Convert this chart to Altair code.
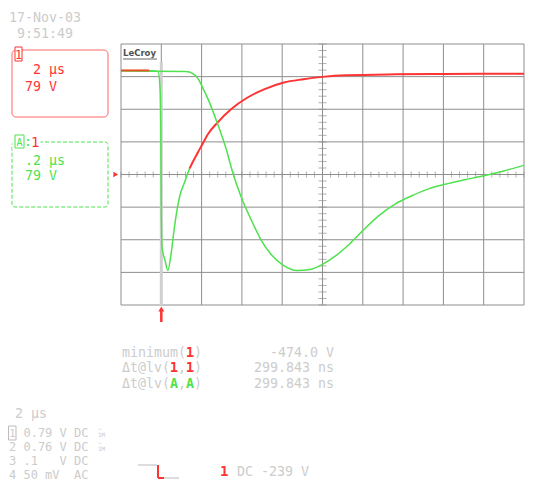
import altair as alt
import pandas as pd

# ---------------- data (in screen divisions) ----------------
red_flat_x = [0.0, 0.70]
red_flat_y = [3.19, 3.19]

dip_x = [0.70, 0.92, 0.97, 0.99, 1.00, 1.02, 1.09, 1.16, 1.26, 1.32, 1.38, 1.46, 1.58, 1.70]
dip_y = [3.18, 3.16, 2.60, 1.00, -1.00, -2.25, -2.62, -2.94, -2.27, -1.67, -1.16, -0.65, -0.23, 0.18]

red_x = [1.70, 1.80, 1.91, 2.02, 2.16, 2.40, 2.73, 3.14, 3.55, 4.04, 4.53, 5.06, 5.59, 6.81, 8.04, 10.0]
red_y = [0.18, 0.43, 0.68, 0.93, 1.24, 1.60, 2.00, 2.36, 2.61, 2.82, 2.92, 3.00, 3.04, 3.07, 3.08, 3.09]

green_x = [0.0, 1.60, 1.70, 1.78, 1.86, 1.93, 2.02, 2.16, 2.40, 2.61, 2.77, 2.97, 3.22, 3.46, 3.71,
           4.04, 4.36, 4.69, 5.02, 5.34, 5.67, 6.00, 6.40, 6.81, 7.22, 7.63, 8.04, 8.50, 9.00, 9.50, 10.0]
green_y = [3.17, 3.16, 3.14, 3.09, 3.02, 2.90, 2.68, 2.31, 1.54, 0.78, 0.07, -0.65, -1.36, -1.97, -2.43,
           -2.79, -2.94, -2.91, -2.74, -2.48, -2.13, -1.72, -1.26, -0.90, -0.65, -0.44, -0.30, -0.17, -0.04, 0.11, 0.28]

v_lines = list(range(0, 11))
h_lines = list(range(-4, 5))
x_minor = [round(0.2 * i, 1) for i in range(51)]
y_minor = [round(-4 + 0.2 * i, 1) for i in range(41)]
trigger_pos = [1.0]

date_text = "17-Nov-03"
time_text = " 9:51:49"
ch1_tdiv, ch1_vdiv = "2 µs", "79 V"
zA_tdiv, zA_vdiv = ".2 µs", "79 V"
meas_min = "-474.0 V"
meas_dt1 = "299.843 ns"
meas_dt2 = "299.843 ns"
timebase = "2 µs"
chan_rows = ["0.79 V DC", "2 0.76 V DC", "3 .1   V DC", "4 50 mV  AC"]
trig_text = "DC -239 V"

# ---------------- layout ----------------
W, H = 403, 261
X0, Y0 = 121, 44
MONO = "DejaVu Sans Mono"
FS = 13.3
CW = 8.0
GRID = "#8e8e8e"
TRIG = "#d0d0d0"
RED = "#ff3333"
GREEN = "#4ee24e"
TXT = "#cccccc"

xs = alt.Scale(domain=[0, 10], nice=False, zero=False)
ys = alt.Scale(domain=[-4, 4], nice=False, zero=False)
ONE = pd.DataFrame({"k": [0]})


def T(s, px, py, color=TXT, size=FS, weight="normal", align="left", font=MONO):
    if align == "left":
        lead = len(s) - len(s.lstrip(" "))
        px += lead * size * 0.602
        s = s.lstrip(" ")
    return alt.Chart(ONE).mark_text(
        text=s.replace(" ", "\u00a0"), align=align, baseline="alphabetic", font=font, fontSize=size,
        fontWeight=weight, color=color
    ).encode(x=alt.value(px - X0), y=alt.value(py - Y0))


def R(x1, y1, x2, y2, color, width=1.0):
    return alt.Chart(ONE).mark_rule(color=color, strokeWidth=width).encode(
        x=alt.value(x1 - X0), y=alt.value(y1 - Y0), x2=alt.value(x2 - X0), y2=alt.value(y2 - Y0))


def BOX(x1, y1, x2, y2, stroke, fill="#ffffff", dash=None, radius=0, fo=1.0):
    kw = dict(stroke=stroke, strokeWidth=1, fill=fill, fillOpacity=fo, cornerRadius=radius)
    if dash:
        kw["strokeDash"] = dash
    return alt.Chart(ONE).mark_rect(**kw).encode(
        x=alt.value(x1 - X0), y=alt.value(y1 - Y0), x2=alt.value(x2 - X0), y2=alt.value(y2 - Y0))


def line(xv, yv, color, width):
    df = pd.DataFrame({"x": xv, "y": yv, "i": range(len(xv))})
    return alt.Chart(df).mark_line(color=color, strokeWidth=width, interpolate="monotone").encode(
        x=alt.X("x:Q", scale=xs, axis=None),
        y=alt.Y("y:Q", scale=ys, axis=None),
        order="i:Q")


layers = []

# grid
layers.append(alt.Chart(pd.DataFrame({"v": v_lines})).mark_rule(color=GRID, strokeWidth=1).encode(
    x=alt.X("v:Q", scale=xs, axis=None)))
layers.append(alt.Chart(pd.DataFrame({"h": h_lines})).mark_rule(color=GRID, strokeWidth=1).encode(
    y=alt.Y("h:Q", scale=ys, axis=None)))
layers.append(alt.Chart(pd.DataFrame({"t": trigger_pos})).mark_rule(color=TRIG, strokeWidth=3).encode(
    x=alt.X("t:Q", scale=xs, axis=None), y=alt.value(18), y2=alt.value(H)))
# center ticks
layers.append(alt.Chart(pd.DataFrame({"m": x_minor, "z": [0] * len(x_minor)})).mark_tick(
    orient="vertical", size=6, thickness=1, color=GRID).encode(
    x=alt.X("m:Q", scale=xs, axis=None), y=alt.Y("z:Q", scale=ys, axis=None)))
layers.append(alt.Chart(pd.DataFrame({"m": y_minor, "c": [5] * len(y_minor)})).mark_tick(
    orient="horizontal", size=8, thickness=1, color=GRID).encode(
    y=alt.Y("m:Q", scale=ys, axis=None), x=alt.X("c:Q", scale=xs, axis=None)))

# LeCroy label
layers.append(T("LeCroy", 123, 56, color="#505050", size=8.5, font="DejaVu Sans", weight="bold"))
layers.append(R(123, 59, 157, 59, "#666666", 1))

# traces
layers.append(line(red_x, red_y, RED, 2.0))
layers.append(line(dip_x, dip_y, GREEN, 1.5))
layers.append(line(green_x, green_y, GREEN, 1.5))
layers.append(line(red_flat_x, red_flat_y, "#e8502a", 2.0))

# markers
layers.append(alt.Chart(pd.DataFrame({"x": [-0.13], "y": [0]})).mark_point(
    shape="triangle-right", filled=True, color=RED, size=30, opacity=1).encode(
    x=alt.X("x:Q", scale=xs, axis=None), y=alt.Y("y:Q", scale=ys, axis=None)))
layers.append(alt.Chart(pd.DataFrame({"t": trigger_pos})).mark_rule(color=RED, strokeWidth=2.5).encode(
    x=alt.X("t:Q", scale=xs, axis=None), y=alt.value(311 - Y0), y2=alt.value(322 - Y0)))
layers.append(alt.Chart(pd.DataFrame({"t": trigger_pos})).mark_point(
    shape="triangle-up", filled=True, color=RED, size=35, opacity=1).encode(
    x=alt.X("t:Q", scale=xs, axis=None), y=alt.value(309 - Y0)))

# date / time
layers.append(T(date_text, 9, 22))
layers.append(T(time_text, 9, 38))

# channel 1 box
layers.append(BOX(12, 50, 108, 117, "#ff6666", radius=4, fo=0))
layers.append(BOX(15, 47, 22, 61, RED))
layers.append(T("1", 18.5, 59, color=RED, size=12, align="center"))
layers.append(T(ch1_tdiv, 33, 74, color=RED))
layers.append(T(ch1_vdiv, 25, 91, color=RED))

# zoom A box
layers.append(BOX(12, 142, 108, 207, GREEN, dash=[4, 2], radius=3, fo=0))
layers.append(BOX(13, 133, 40, 150, "#ffffff", fo=1))
layers.append(BOX(15, 135, 24, 148, GREEN))
layers.append(T("A", 19.5, 146, color=GREEN, size=10, align="center"))
layers.append(T(":", 24, 146, color=GREEN))
layers.append(T("1", 31, 147, color=RED, size=14))
layers.append(T(zA_tdiv, 25, 165, color=GREEN))
layers.append(T(zA_vdiv, 25, 180, color=GREEN))

# measurements
mx = 122
layers.append(T("minimum(", mx, 357))
layers.append(T("1", mx + 8.5 * CW, 357, color=RED, size=14, weight="bold", align="center"))
layers.append(T(")", mx + 9 * CW, 357))
layers.append(T(meas_min, 334, 357, align="right"))
layers.append(T("Δt@lv(", mx, 372))
layers.append(T("1", mx + 6.5 * CW, 372, color=RED, size=14, weight="bold", align="center"))
layers.append(T(",", mx + 7 * CW, 372))
layers.append(T("1", mx + 8.5 * CW, 372, color=RED, size=14, weight="bold", align="center"))
layers.append(T(")", mx + 9 * CW, 372))
layers.append(T(meas_dt1, 334, 372, align="right"))
layers.append(T("Δt@lv(", mx, 388))
layers.append(T("A", mx + 6.5 * CW, 388, color=GREEN, size=13.3, weight="bold", align="center"))
layers.append(T(",", mx + 7 * CW, 388))
layers.append(T("A", mx + 8.5 * CW, 388, color=GREEN, size=13.3, weight="bold", align="center"))
layers.append(T(")", mx + 9 * CW, 388))
layers.append(T(meas_dt2, 334, 388, align="right"))

# bottom status (compressed slightly so the last row stays on the page)
BFS = 12.0
BCW = BFS * 0.602
BX = 9
rows_y = [437, 451, 465, 479]
layers.append(T(timebase, 15, 418))
layers.append(BOX(8.5, 426, 16, 440, "#bbbbbb", fo=0))
layers.append(T("1", 12.3, 437, size=10.5, align="center"))
layers.append(T(chan_rows[0], BX + 2 * BCW, rows_y[0], size=BFS))
layers.append(T(chan_rows[1], BX, rows_y[1], size=BFS))
layers.append(T(chan_rows[2], BX, rows_y[2], size=BFS))
layers.append(T(chan_rows[3], BX, rows_y[3], size=BFS))
for by in rows_y[:2]:
    layers.append(T("~", 98, by - 6, size=6))
    layers.append(T("1M", 98, by, size=6))

# trigger symbol
layers.append(R(138, 465, 157, 465, "#bbbbbb", 1))
layers.append(R(158, 465, 158, 478, RED, 2))
layers.append(R(158, 478, 164, 478, RED, 2))
layers.append(R(164, 478, 179, 478, "#bbbbbb", 1))
layers.append(T("1", 220, 476, color=RED, size=14, weight="bold"))
layers.append(T(trig_text, 237, 476))

chart = alt.layer(*layers).properties(
    width=W, height=H,
    padding={"left": X0 - 8, "top": Y0 - 8, "right": 1, "bottom": 177},
    autosize=alt.AutoSizeParams(type="none"),
    background="#ffffff",
).configure_view(stroke=None)

chart.save("out.html", embed_options={"renderer": "svg", "actions": False})
